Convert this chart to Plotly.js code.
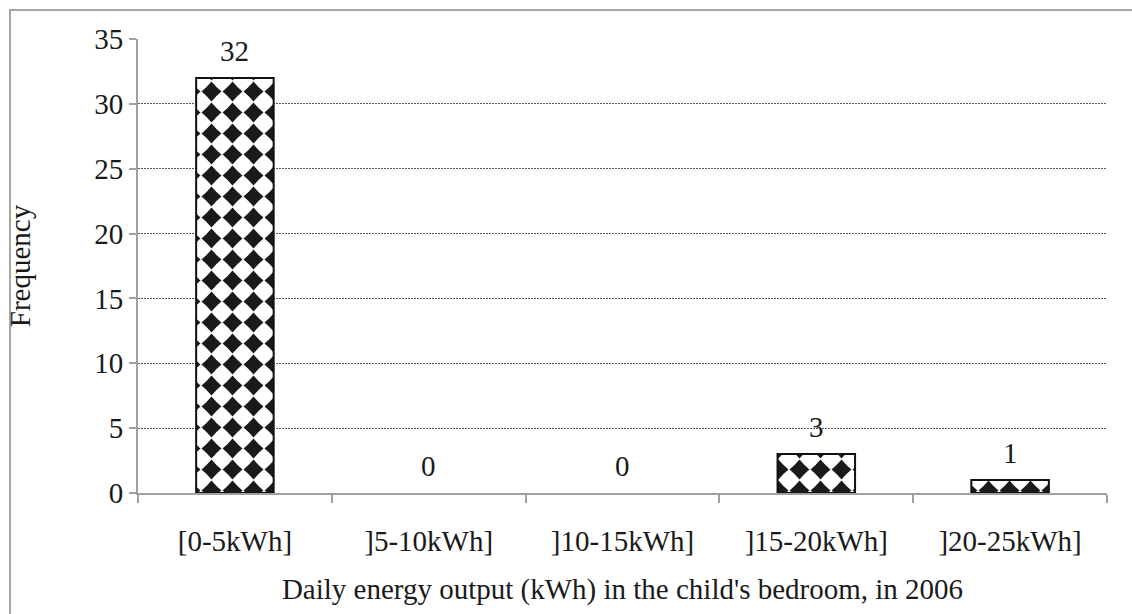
<!DOCTYPE html>
<html>
<head>
<meta charset="utf-8">
<script src="https://cdn.plot.ly/plotly-3.0.1.min.js"></script>
<style>
  html, body { margin: 0; padding: 0; background: #ffffff; }
  #frame {
    position: absolute; left: 9px; top: 9px; width: 1200px; height: 700px;
    border-left: 2px solid #a6a6a6; border-top: 2px solid #a6a6a6;
  }
  #chart { position: absolute; left: 0; top: 0; width: 1132px; height: 614px; }
</style>
</head>
<body>
<div id="frame"></div>
<div id="chart"></div>
<script>
// Histogram of daily energy output in the child's bedroom (2006)
const binLabels = ["[0-5kWh]", "]5-10kWh]", "]10-15kWh]", "]15-20kWh]", "]20-25kWh]"];
const frequencies = [32, 0, 0, 3, 1];
const yTickValues = [0, 5, 10, 15, 20, 25, 30, 35];

const serif = "Liberation Serif, Times New Roman, serif";
const ink = "#1a1a1a";
const fontSize = 29;

const trace = {
  type: "bar",
  x: binLabels,
  y: frequencies,
  marker: {
    color: "#ffffff",
    // empty bins get no outline
    line: { color: "#111111", width: frequencies.map(v => (v > 0 ? 2 : 0)) },
    pattern: {
      shape: ".",
      fillmode: "replace",
      fgcolor: "#1a1a1a",
      bgcolor: "#ffffff",
      size: 21,
      solidity: 0.5
    }
  },
  hoverinfo: "x+y"
};

// value labels above each bar
const labels = binLabels.map((b, i) => ({
  x: b,
  y: frequencies[i],
  xref: "x",
  yref: "y",
  text: String(frequencies[i]),
  showarrow: false,
  yanchor: "bottom",
  yshift: 9,
  font: { family: serif, size: fontSize, color: ink }
}));

const layout = {
  width: 1132,
  height: 614,
  margin: { l: 138, r: 25, t: 39, b: 121 },
  paper_bgcolor: "rgba(0,0,0,0)",
  plot_bgcolor: "rgba(0,0,0,0)",
  bargap: 0.6,
  showlegend: false,
  font: { family: serif, size: fontSize, color: ink },
  xaxis: {
    type: "category",
    range: [-0.5, 4.5],
    showline: true,
    linecolor: "#a0a0a0",
    linewidth: 2,
    ticks: "outside",
    tickson: "boundaries",
    ticklen: 8,
    tickwidth: 2,
    tickcolor: "#a0a0a0",
    ticklabelstandoff: 21,
    showgrid: false,
    tickfont: { family: serif, size: fontSize, color: ink },
    title: {
      text: "Daily energy output (kWh) in the child's bedroom, in 2006",
      font: { family: serif, size: fontSize, color: ink },
      standoff: 23
    }
  },
  yaxis: {
    range: [0, 35],
    tickvals: yTickValues,
    showline: true,
    linecolor: "#a0a0a0",
    linewidth: 2,
    ticks: "outside",
    ticklen: 7,
    tickwidth: 2,
    tickcolor: "#a0a0a0",
    showgrid: true,
    gridcolor: "#555555",
    gridwidth: 1,
    griddash: "2px,1px",
    zeroline: false,
    tickfont: { family: serif, size: fontSize, color: ink },
    title: {
      text: "Frequency",
      font: { family: serif, size: fontSize, color: ink },
      standoff: 55
    }
  },
  annotations: labels
};

Plotly.newPlot("chart", [trace], layout, { staticPlot: true, displayModeBar: false }).then(gd => {
  // reshape the dot fill into small four-pointed diamonds
  gd.querySelectorAll("pattern circle").forEach(c => {
    const cx = parseFloat(c.getAttribute("cx"));
    const cy = parseFloat(c.getAttribute("cy"));
    const R = 10;
    const k = R * 0.45;
    const d = `M${cx},${cy - R}Q${cx + k},${cy - k} ${cx + R},${cy}` +
              `Q${cx + k},${cy + k} ${cx},${cy + R}` +
              `Q${cx - k},${cy + k} ${cx - R},${cy}` +
              `Q${cx - k},${cy - k} ${cx},${cy - R}Z`;
    const p = document.createElementNS("http://www.w3.org/2000/svg", "path");
    p.setAttribute("d", d);
    p.setAttribute("fill", c.getAttribute("fill") || "#1a1a1a");
    c.parentNode.replaceChild(p, c);
  });
});
</script>
</body>
</html>
